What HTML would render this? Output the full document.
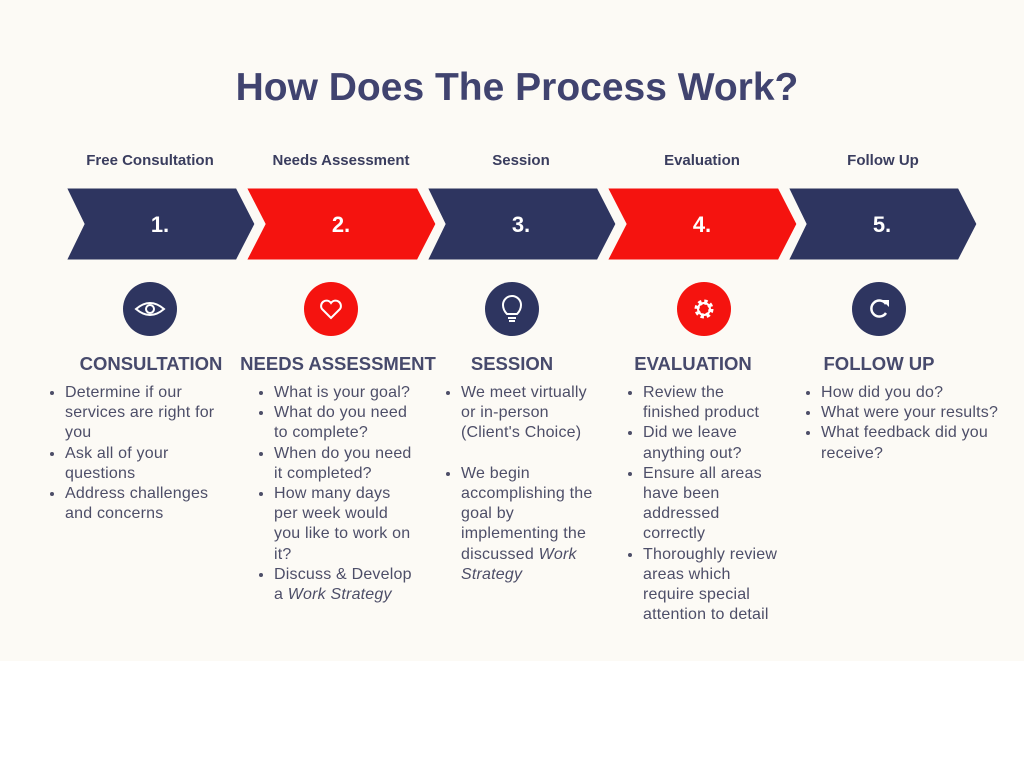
<!DOCTYPE html>
<html><head><meta charset="utf-8"><style>
body{margin:0;width:1024px;height:768px;background:#fff;font-family:"Liberation Sans",sans-serif;position:relative;overflow:hidden}
.bg{position:absolute;left:0;top:0;width:1024px;height:661px;background:#fcfaf5}
h1{position:absolute;left:0;width:1034px;top:66px;margin:0;text-align:center;font-size:39px;color:#40436f;font-weight:bold}
.lab{position:absolute;top:152px;font-size:15px;font-weight:bold;color:#3a3d5e;transform:translateX(-50%);white-space:nowrap}
.hd{position:absolute;top:353px;font-size:18.5px;font-weight:bold;color:#474a6c;transform:translateX(-50%);white-space:nowrap}
ul{position:absolute;top:383px;margin:0;padding:0 0 0 15px;font-size:16px;line-height:20.2px;color:#4d4e68;white-space:nowrap;letter-spacing:0.2px}
li{margin:0}
.num{position:absolute;top:212px;font-size:22px;font-weight:bold;color:#fff;transform:translateX(-50%)}
</style></head><body>
<div class="bg"></div>
<h1>How Does The Process Work?</h1>
<div class="lab" style="left:150px">Free Consultation</div>
<div class="lab" style="left:341px">Needs Assessment</div>
<div class="lab" style="left:521px">Session</div>
<div class="lab" style="left:702px">Evaluation</div>
<div class="lab" style="left:883px">Follow Up</div>
<svg style="position:absolute;left:0;top:0" width="1024" height="400">
<g stroke="#fcfaf5" stroke-width="3">
<polygon fill="#2e3560" points="65,187 237,187 256,224 237,261 65,261 83,224"/>
<polygon fill="#f5130f" points="245,187 418,187 437,224 418,261 245,261 264,224"/>
<polygon fill="#2e3560" points="426,187 598,187 617,224 598,261 426,261 444,224"/>
<polygon fill="#f5130f" points="606,187 779,187 798,224 779,261 606,261 625,224"/>
<polygon fill="#2e3560" points="787,187 959,187 978,224 959,261 787,261 805,224"/>
</g>
<circle cx="150" cy="309" r="27" fill="#2e3560"/>
<circle cx="331" cy="309" r="27" fill="#f5130f"/>
<circle cx="512" cy="309" r="27" fill="#2e3560"/>
<circle cx="704" cy="309" r="27" fill="#f5130f"/>
<circle cx="879" cy="309" r="27" fill="#2e3560"/>
<g fill="none" stroke="#fff" stroke-width="2">
<path d="M136,309 Q150,297 164,309 Q150,321 136,309Z"/><circle cx="150" cy="309" r="4"/>
<path d="M331,318 L322,309 A5,5 0 0 1 331,303 A5,5 0 0 1 340,309 Z"/>
<path d="M507,314 Q503,310 503,305 A9,9 0 0 1 521,305 Q521,310 517,314 Z M508,318 H516 M509,321 H515"/>
<circle cx="704" cy="309" r="7" stroke-width="5" stroke-dasharray="3 2.5"/><circle cx="704" cy="309" r="6"/>
<path d="M886,313 A8,8 0 1 1 886,304" stroke-width="2.5"/>
</g>
<polygon fill="#fff" points="882,300 889,300 889,307"/>
<circle cx="704" cy="309" r="4" fill="#f5130f"/>
</svg>
<div class="num" style="left:160px">1.</div>
<div class="num" style="left:341px">2.</div>
<div class="num" style="left:521px">3.</div>
<div class="num" style="left:702px">4.</div>
<div class="num" style="left:882px">5.</div>
<div class="hd" style="left:151px">CONSULTATION</div>
<div class="hd" style="left:338px">NEEDS ASSESSMENT</div>
<div class="hd" style="left:512px">SESSION</div>
<div class="hd" style="left:693px">EVALUATION</div>
<div class="hd" style="left:879px">FOLLOW UP</div>
<ul style="left:50px"><li>Determine if our<br>services are right for<br>you</li><li>Ask all of your<br>questions</li><li>Address challenges<br>and concerns</li></ul>
<ul style="left:259px"><li>What is your goal?</li><li>What do you need<br>to complete?</li><li>When do you need<br>it completed?</li><li>How many days<br>per week would<br>you like to work on<br>it?</li><li>Discuss &amp; Develop<br>a <i>Work Strategy</i></li></ul>
<ul style="left:446px"><li>We meet virtually<br>or in-person<br>(Client's Choice)<br><br></li><li>We begin<br>accomplishing the<br>goal by<br>implementing the<br>discussed <i>Work<br>Strategy</i></li></ul>
<ul style="left:628px"><li>Review the<br>finished product</li><li>Did we leave<br>anything out?</li><li>Ensure all areas<br>have been<br>addressed<br>correctly</li><li>Thoroughly review<br>areas which<br>require special<br>attention to detail</li></ul>
<ul style="left:806px"><li>How did you do?</li><li>What were your results?</li><li>What feedback did you<br>receive?</li></ul>
</body></html>
